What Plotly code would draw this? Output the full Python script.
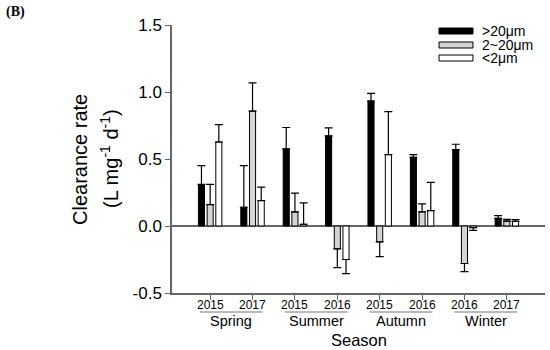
import plotly.graph_objects as go

# ---- data ----
years = ["2015", "2017", "2015", "2016", "2015", "2016", "2016", "2017"]
seasons = ["Spring", "Summer", "Autumn", "Winter"]
series_names = [">20μm", "2~20μm", "<2μm"]

large = [0.31, 0.14, 0.575, 0.672, 0.933, 0.513, 0.57, 0.057]
large_err = [0.14, 0.31, 0.16, 0.06, 0.057, 0.02, 0.04, 0.02]
medium = [0.16, 0.858, 0.105, -0.17, -0.119, 0.105, -0.28, 0.037]
medium_err = [0.15, 0.21, 0.14, 0.14, 0.11, 0.06, 0.06, 0.012]
small = [0.627, 0.19, 0.013, -0.25, 0.533, 0.115, -0.012, 0.035]
small_err = [0.13, 0.10, 0.16, 0.105, 0.32, 0.21, 0.02, 0.012]

values = [large, medium, small]
errors = [large_err, medium_err, small_err]
fills = ["#000000", "#d4d4d4", "#ffffff"]

FONT = "Arial, Liberation Sans, sans-serif"
x = list(range(len(years)))

fig = go.Figure()
for name, vals, errs, col in zip(series_names, values, errors, fills):
    plus = [e if v >= 0 else 0 for v, e in zip(vals, errs)]
    minus = [e if v < 0 else 0 for v, e in zip(vals, errs)]
    fig.add_trace(go.Bar(
        x=x, y=vals, name=name,
        marker=dict(color=col, line=dict(color="#000000", width=1)),
        error_y=dict(type="data", symmetric=False, array=plus, arrayminus=minus,
                     color="#000000", thickness=1.2, width=4),
        showlegend=False,
    ))

L, R, T, B = 172, 5, 25, 57
W, H = 550, 350
pw, ph = W - L - R, H - T - B

def px_x(p):
    return (p - L) / pw

def px_y(p):
    return (H - B - p) / ph

shapes = []
annotations = []

# year labels under the ticks
for xi, yr in zip(x, years):
    annotations.append(dict(xref="x", yref="paper", x=xi, y=px_y(305), text=yr,
                            showarrow=False, font=dict(family=FONT, size=12, color="#000"),
                            xanchor="center", yanchor="middle"))

# season underlines and labels
for i, s in enumerate(seasons):
    x0, x1 = 2 * i - 0.24, 2 * i + 1 + 0.24
    shapes.append(dict(type="line", xref="x", yref="paper", x0=x0, x1=x1,
                       y0=px_y(312), y1=px_y(312), line=dict(color="#777777", width=1)))
    annotations.append(dict(xref="x", yref="paper", x=2 * i + 0.5, y=px_y(321),
                            text=s, showarrow=False, font=dict(family=FONT, size=14.5, color="#000"),
                            xanchor="center", yanchor="middle"))

annotations.append(dict(xref="x", yref="paper", x=3.5, y=px_y(340), text="Season",
                        showarrow=False, font=dict(family=FONT, size=16.5, color="#000"),
                        xanchor="center", yanchor="middle"))

# y-axis title (two lines)
annotations.append(dict(xref="paper", yref="paper", x=px_x(80), y=px_y(160),
                        text="Clearance rate", textangle=-90, showarrow=False,
                        font=dict(family=FONT, size=20, color="#000"),
                        xanchor="center", yanchor="middle"))
annotations.append(dict(xref="paper", yref="paper", x=px_x(109), y=px_y(159),
                        text="(L mg<sup>-1</sup> d<sup>-1</sup>)", textangle=-90, showarrow=False,
                        font=dict(family=FONT, size=20, color="#000"),
                        xanchor="center", yanchor="middle"))

# panel label
annotations.append(dict(xref="paper", yref="paper", x=px_x(4), y=px_y(12), text="<b>(B)</b>",
                        showarrow=False, font=dict(family="Liberation Serif, Times New Roman, serif",
                                                   size=14, color="#000"),
                        xanchor="left", yanchor="middle"))

# legend (drawn manually with wide swatches)
leg_rows = [31, 45, 58]
for name, col, yy in zip(series_names, fills, leg_rows):
    shapes.append(dict(type="rect", xref="paper", yref="paper",
                       x0=px_x(439), x1=px_x(473), y0=px_y(yy - 3), y1=px_y(yy + 3),
                       fillcolor=col, line=dict(color="#000000", width=1)))
    annotations.append(dict(xref="paper", yref="paper", x=px_x(480), y=px_y(yy),
                            text=name, showarrow=False,
                            font=dict(family=FONT, size=14, color="#000"),
                            xanchor="left", yanchor="middle"))

fig.update_layout(
    width=W, height=H,
    margin=dict(l=L, r=R, t=T, b=B),
    paper_bgcolor="white", plot_bgcolor="white",
    barmode="group", bargap=0.385, bargroupgap=0.3,
    font=dict(family=FONT, color="#000"),
    shapes=shapes, annotations=annotations,
    xaxis=dict(range=[-0.9, 7.9], tickmode="array", tickvals=x, showticklabels=False,
               showline=True, linecolor="#666666", linewidth=1.5,
               ticks="outside", ticklen=5, tickcolor="#666666",
               showgrid=False, zeroline=False),
    yaxis=dict(range=[-0.5, 1.5], tickmode="array",
               tickvals=[-0.5, 0, 0.5, 1.0, 1.5],
               ticktext=["-0.5", "0.0", "0.5", "1.0", "1.5"],
               showline=True, linecolor="#666666", linewidth=1.5,
               ticks="outside", ticklen=5, tickcolor="#666666",
               tickfont=dict(family=FONT, size=17, color="#000"),
               showgrid=False, zeroline=True, zerolinecolor="#666666", zerolinewidth=1.5),
)

fig.write_html("out.html", config={"displayModeBar": False},
               post_script="document.body.style.margin='0';document.body.style.overflow='hidden';")
